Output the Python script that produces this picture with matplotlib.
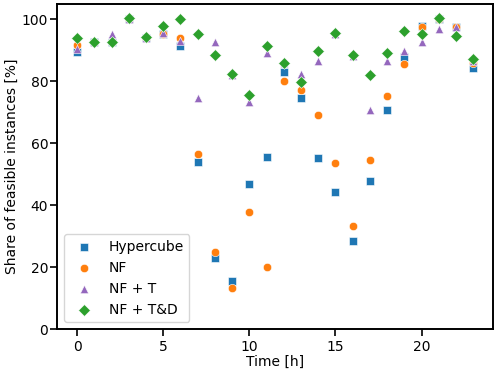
import numpy as np
from matplotlib import pyplot as plt

hours = list(range(24))

hypercube = [89.5, 92.5, 92.5, 100, 94, 95.3, 91.5, 53.9, 23.0, 15.4, 46.8, 55.6,
             83.1, 74.6, 55.3, 44.2, 28.5, 47.7, 70.6, 87.7, 97.7, 100, 97.4, 84.4]
nf = [91.7, 92.5, 92.5, 100, 94, 95.3, 93.8, 56.5, 24.9, 13.2, 37.8, 19.9,
      80.2, 77.2, 69.2, 53.6, 33.2, 54.5, 75.2, 85.6, 97.5, 100, 97.4, 86.0]
nf_t = [90.5, 92.5, 95.3, 100, 94, 95.5, 93.0, 74.6, 92.5, 82.0, 73.4, 89.0,
        86.0, 82.2, 86.5, 95.3, 88.0, 70.6, 86.5, 89.8, 92.5, 96.7, 97.4, 86.5]
nf_td = [93.8, 92.6, 92.6, 100.3, 94.3, 97.8, 100, 95.2, 88.6, 82.3, 75.7, 91.3,
         85.9, 79.8, 89.9, 95.7, 88.3, 82.0, 89.0, 96.2, 95.2, 100.3, 94.6, 87.1]

series = [
    ("Hypercube", hypercube, "s", "tab:blue"),
    ("NF", nf, "o", "tab:orange"),
    ("NF + T", nf_t, "^", "tab:purple"),
    ("NF + T&D", nf_td, "D", "tab:green"),
]

plt.rcParams['font.size'] = 10
plt.rcParams['axes.linewidth'] = 1.4

fig, ax = plt.subplots(figsize=(4.98, 3.74), dpi=100)
fig.subplots_adjust(left=0.115, right=0.99, bottom=0.12, top=0.99)

for label, vals, marker, color in series:
    ax.scatter(hours, vals, marker=marker, color=color, s=36,
               edgecolors="white", linewidths=0.4, label=label)

ax.set_ylim(0, 105)
ax.set_xticks([0, 5, 10, 15, 20])
ax.set_yticks([0, 20, 40, 60, 80, 100])
ax.tick_params(length=5, width=1.2)
ax.tick_params(axis="y", pad=1.5)
ax.tick_params(axis="x", pad=2.5)
ax.set_xlabel("Time [h]", labelpad=1)
ax.set_ylabel("Share of feasible instances [%]", labelpad=2)
ax.legend(loc="lower left")

fig.savefig("out.png")
